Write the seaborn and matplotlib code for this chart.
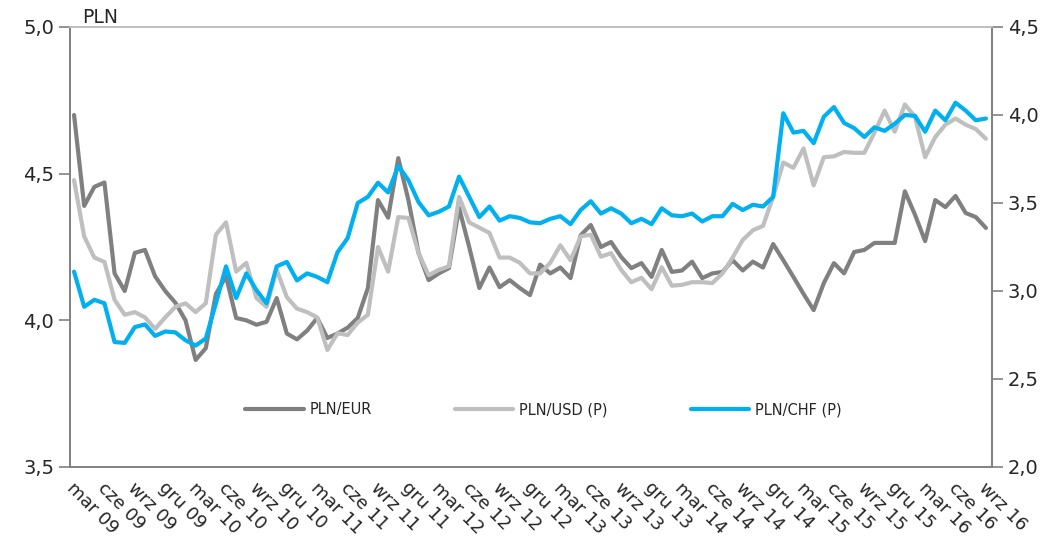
import numpy as np
import pandas as pd
import matplotlib
matplotlib.use("Agg")
import matplotlib.pyplot as plt
import seaborn as sns
from matplotlib.ticker import FuncFormatter

# monthly series, mar 09 .. wrz 16
pln_eur = [4.70, 4.39, 4.455, 4.47, 4.16, 4.10, 4.23, 4.24, 4.15, 4.10,
           4.06, 4.00, 3.865, 3.905, 4.09, 4.15, 4.008, 4.00, 3.985, 3.995,
           4.076, 3.955, 3.935, 3.965, 4.008, 3.94, 3.955, 3.975, 4.008, 4.11,
           4.41, 4.35, 4.553, 4.41, 4.23, 4.137, 4.16, 4.178, 4.383, 4.25,
           4.11, 4.18, 4.113, 4.137, 4.11, 4.086, 4.19, 4.16, 4.18, 4.144,
           4.29, 4.325, 4.25, 4.267, 4.216, 4.178, 4.195, 4.148, 4.24, 4.165,
           4.17, 4.20, 4.144, 4.16, 4.165, 4.205, 4.17, 4.20, 4.18, 4.26,
           4.205, 4.148, 4.09, 4.035, 4.127, 4.195, 4.16, 4.233, 4.24, 4.264,
           4.264, 4.264, 4.44, 4.36, 4.27, 4.41, 4.386, 4.424, 4.366, 4.352,
           4.315]

pln_usd = [3.63, 3.31, 3.19, 3.165, 2.95, 2.865, 2.88, 2.85, 2.785, 2.85,
           2.91, 2.93, 2.88, 2.93, 3.32, 3.39, 3.11, 3.16, 2.96, 2.91,
           3.12, 2.965, 2.90, 2.88, 2.85, 2.665, 2.76, 2.75, 2.82, 2.865,
           3.25, 3.11, 3.42, 3.415, 3.215, 3.09, 3.12, 3.14, 3.535, 3.39,
           3.36, 3.33, 3.19, 3.19, 3.16, 3.10, 3.10, 3.16, 3.26, 3.175,
           3.31, 3.32, 3.195, 3.215, 3.12, 3.05, 3.075, 3.01, 3.135, 3.03,
           3.035, 3.05, 3.05, 3.045, 3.10, 3.19, 3.29, 3.345, 3.37, 3.535,
           3.73, 3.70, 3.81, 3.60, 3.76, 3.765, 3.79, 3.785, 3.785, 3.90,
           4.025, 3.905, 4.06, 3.99, 3.76, 3.875, 3.945, 3.98, 3.945, 3.92,
           3.865]

pln_chf = [3.11, 2.91, 2.95, 2.93, 2.71, 2.705, 2.795, 2.81, 2.745, 2.77,
           2.765, 2.72, 2.69, 2.73, 2.93, 3.14, 2.96, 3.10, 3.005, 2.93,
           3.14, 3.165, 3.06, 3.10, 3.08, 3.05, 3.22, 3.30, 3.50, 3.535,
           3.615, 3.56, 3.71, 3.63, 3.505, 3.43, 3.45, 3.48, 3.65, 3.535,
           3.42, 3.48, 3.40, 3.425, 3.415, 3.39, 3.385, 3.41, 3.425, 3.38,
           3.46, 3.51, 3.44, 3.47, 3.44, 3.385, 3.41, 3.38, 3.47, 3.43,
           3.425, 3.44, 3.395, 3.425, 3.425, 3.495, 3.46, 3.49, 3.48, 3.535,
           4.01, 3.90, 3.91, 3.84, 3.99, 4.045, 3.955, 3.925, 3.875, 3.93,
           3.91, 3.95, 4.00, 3.995, 3.905, 4.025, 3.97, 4.07, 4.025, 3.97,
           3.98]

month_names = ["mar", "cze", "wrz", "gru"]
tick_labels = [f"{month_names[k % 4]} {9 + k // 4:02d}" for k in range(31)]

df = pd.DataFrame({
    "m": np.arange(len(pln_eur)),
    "PLN/EUR": pln_eur,
    "PLN/USD (P)": pln_usd,
    "PLN/CHF (P)": pln_chf,
})

sns.set_style("white")
plt.rcParams["font.family"] = ["DejaVu Sans"]

fig = plt.figure(figsize=(10.52, 5.4), dpi=100)
ax = fig.add_axes([70 / 1052, 73 / 540, 922 / 1052, 440 / 540])
ax2 = ax.twinx()

sns.lineplot(data=df, x="m", y="PLN/EUR", ax=ax, color="#808080", lw=3, label="PLN/EUR", legend=False)
sns.lineplot(data=df, x="m", y="PLN/USD (P)", ax=ax2, color="#BFBFBF", lw=3, label="PLN/USD (P)", legend=False)
sns.lineplot(data=df, x="m", y="PLN/CHF (P)", ax=ax2, color="#00B0F0", lw=3, label="PLN/CHF (P)", legend=False)

ax.set_ylim(3.5, 5.0)
ax2.set_ylim(2.0, 4.5)
ax.set_yticks([3.5, 4.0, 4.5, 5.0])
ax2.set_yticks([2.0, 2.5, 3.0, 3.5, 4.0, 4.5])
comma = FuncFormatter(lambda v, p: f"{v:.1f}".replace(".", ","))
ax.yaxis.set_major_formatter(comma)
ax2.yaxis.set_major_formatter(comma)

ax.set_xticks(np.arange(31) * 3 - 0.4)
ax.set_xticklabels(tick_labels, rotation=-45, ha="left", va="center", rotation_mode="anchor")
ax.set_xlabel("")
ax.set_ylabel("")
ax2.set_ylabel("")

for a in (ax, ax2):
    a.tick_params(axis="both", direction="out", length=8, width=1.2, color="#808080",
                  labelsize=14, labelcolor="#262626")
    for s in a.spines.values():
        s.set_color("#808080")
        s.set_linewidth(1.2)
    a.spines["top"].set_color("#BFBFBF")
ax.tick_params(axis="x", pad=5, labelsize=13)
ax.set_xlim(-0.4, 90.6)

ax.text(0.013, 1.0, "PLN", transform=ax.transAxes, fontsize=13.5, color="#262626",
        ha="left", va="bottom")

h1, l1 = ax.get_legend_handles_labels()
h2, l2 = ax2.get_legend_handles_labels()
ax2.legend(h1 + h2, l1 + l2, loc="center left", bbox_to_anchor=(0.19, 0.13), ncol=3,
           frameon=False, fontsize=10.5, handlelength=4.0, handletextpad=0.4,
           columnspacing=5.7, borderpad=0, borderaxespad=0)

fig.savefig("out.png", dpi=100)
